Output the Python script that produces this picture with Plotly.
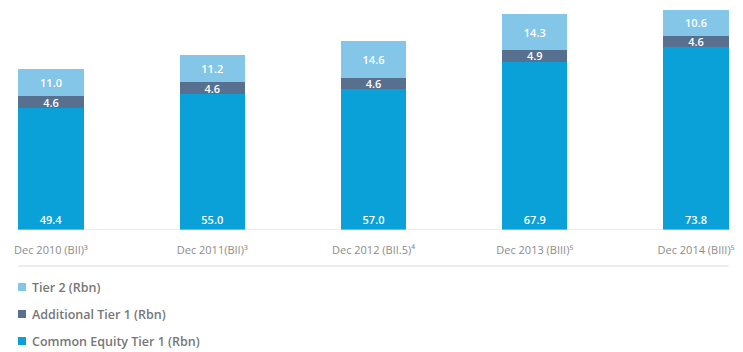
import plotly.graph_objects as go

# Capital composition by reporting date (R billions)
categories = [
    "Dec 2010 (BII)³",
    "Dec 2011(BII)³",
    "Dec 2012 (BII.5)⁴",
    "Dec 2013 (BIII)⁵",
    "Dec 2014 (BIII)⁵",
]
cet1 = [49.4, 55.0, 57.0, 67.9, 73.8]
at1 = [4.6, 4.6, 4.6, 4.9, 4.6]
tier2 = [11.0, 11.2, 14.6, 14.3, 10.6]

series_names = ["Common Equity Tier 1 (Rbn)", "Additional Tier 1 (Rbn)", "Tier 2 (Rbn)"]
colors = ["#0aa1d8", "#57708f", "#84c6e8"]

W, H = 743, 352
plot_h = 230
bargap = 0.595
bar_w = 1 - bargap


def py(pixel_y):
    """Pixel row (from top) to paper y, with the plot area filling rows 0..plot_h."""
    return (plot_h - pixel_y) / plot_h


fig = go.Figure()

# Stacked bars with white value labels
for i, (vals, name, col) in enumerate(zip([cet1, at1, tier2], series_names, colors)):
    fig.add_trace(go.Bar(
        x=categories, y=vals, name=name,
        marker=dict(color=col, line=dict(width=0)),
        text=[f"{v:.1f}" for v in vals],
        textposition="inside",
        insidetextanchor="start" if i == 0 else "middle",
        textangle=0,
        textfont=dict(family="Open Sans", size=11, color="white", weight=600),
        hoverinfo="skip",
    ))

n = len(categories)
# Baseline under the bars and separator line above the key
fig.add_shape(type="line", xref="x", yref="y",
              x0=-bar_w / 2, x1=n - 1 + bar_w / 2, y0=0, y1=0,
              line=dict(color="#d9d9d9", width=1))
fig.add_shape(type="line", xref="x", yref="paper",
              x0=-bar_w / 2, x1=n - 1 + bar_w / 2, y0=py(266), y1=py(266),
              line=dict(color="#e6e6e6", width=1.5))

# Key below the chart: Tier 2, AT1, CET1 from top to bottom
key_rows = [287, 314, 341]
for row, (name, col) in zip(key_rows, list(zip(series_names, colors))[::-1]):
    fig.add_shape(type="rect", xref="paper", yref="paper",
                  x0=18 / W, x1=26 / W, y0=py(row + 4), y1=py(row - 4),
                  fillcolor=col, line=dict(width=0))
    fig.add_annotation(xref="paper", yref="paper", x=30 / W, y=py(row),
                       xanchor="left", yanchor="middle", showarrow=False,
                       text=name,
                       font=dict(family="Open Sans", size=12.5, color="#777777", weight=600))

px_per_cat = 161.25
first_center = 51.0
fig.update_layout(
    width=W, height=H,
    margin=dict(l=0, r=0, t=0, b=H - plot_h),
    paper_bgcolor="white", plot_bgcolor="white",
    barmode="stack", bargap=bargap,
    uniformtext=dict(minsize=11, mode="show"),
    showlegend=False,
    xaxis=dict(
        type="category",
        range=[-first_center / px_per_cat, (n - 1) + (W - (first_center + (n - 1) * px_per_cat)) / px_per_cat],
        showgrid=False, zeroline=False, showline=False, ticks="",
        tickfont=dict(family="Open Sans", size=11, color="#8c8c8c"),
        ticklabelstandoff=12,
        fixedrange=True,
    ),
    yaxis=dict(
        range=[0, plot_h / 2.475], visible=False, fixedrange=True,
    ),
)

fig.write_html("out.html")
